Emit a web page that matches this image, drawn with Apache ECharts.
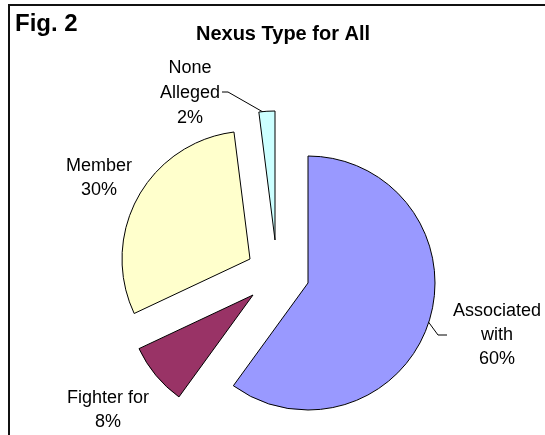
<!DOCTYPE html>
<html>
<head>
<meta charset="utf-8">
<script src="https://cdn.jsdelivr.net/npm/echarts@6/dist/echarts.min.js"></script>
<style>
  html, body { margin: 0; padding: 0; background: #fff; }
  #chart { width: 545px; height: 435px; }
</style>
</head>
<body>
<div id="chart"></div>
<script>
const categories = ['Associated\nwith', 'Fighter for', 'Member', 'None\nAlleged']
const shares = [60, 8, 30, 2]
const sliceColors = ['#9999FF', '#993366', '#FFFFCC', '#CCFFFF']

// each slice is pulled out by its own amount, so every slice gets its own series
const SLICE_LAYOUT = [
  { center: [308, 283], radius: 127, label: [497, 335], line: [[427, 320], [438, 335], [447, 335]] },
  { center: [253, 295], radius: 126, label: [108, 410] },
  { center: [250, 259], radius: 128, label: [99, 178] },
  { center: [275, 240], radius: 129, label: [190, 93], line: [[263, 112], [228, 92], [222, 92]] }
]

const FONT = '"Liberation Sans", Arial, sans-serif'

const buildSeries = (sliceIndex) => {
  const layout = SLICE_LAYOUT[sliceIndex]
  return {
    type: 'pie',
    center: layout.center,
    radius: layout.radius,
    startAngle: 90,
    clockwise: true,
    avoidLabelOverlap: false,
    silent: true,
    animation: false,
    data: categories.map((name, i) => {
      const visible = i === sliceIndex
      return {
        name,
        value: shares[i],
        itemStyle: visible
          ? { color: sliceColors[i], borderColor: '#000', borderWidth: 1 }
          : { color: 'rgba(0,0,0,0)', borderWidth: 0 },
        label: { show: visible },
        labelLine: { show: visible && !!layout.line }
      }
    }),
    label: {
      position: 'outside',
      formatter: (p) => `${p.name}\n${p.value}%`,
      color: '#000',
      fontFamily: FONT,
      fontSize: 18,
      lineHeight: sliceIndex === 3 ? 25 : 24,
      align: 'center'
    },
    labelLine: {
      lineStyle: { color: '#000', width: 1 }
    },
    labelLayout: (params) => {
      if (params.dataIndex !== sliceIndex) {
        return {}
      }
      const out = {
        x: layout.label[0],
        y: layout.label[1],
        align: 'center',
        verticalAlign: 'middle'
      }
      if (layout.line) {
        out.labelLinePoints = layout.line
      }
      return out
    }
  }
}

const chart = echarts.init(document.getElementById('chart'))

chart.setOption({
  animation: false,
  graphic: [
    {
      type: 'rect',
      shape: { x: 9, y: 5, width: 560, height: 460 },
      style: { fill: 'none', stroke: '#111', lineWidth: 2 }
    },
    {
      type: 'text',
      x: 15,
      y: 24,
      style: {
        text: 'Fig. 2',
        font: `bold 24px ${FONT}`,
        fill: '#000',
        textAlign: 'left',
        textVerticalAlign: 'middle'
      }
    },
    {
      type: 'text',
      x: 283,
      y: 34,
      style: {
        text: 'Nexus Type for All',
        font: `bold 20px ${FONT}`,
        fill: '#000',
        textAlign: 'center',
        textVerticalAlign: 'middle'
      }
    }
  ],
  series: categories.map((_, i) => buildSeries(i))
})
</script>
</body>
</html>
